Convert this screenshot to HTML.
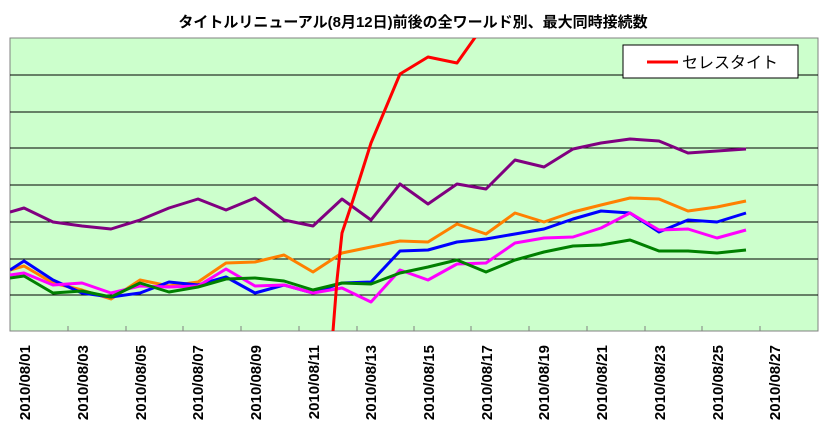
<!DOCTYPE html>
<html><head><meta charset="utf-8"><style>
html,body{margin:0;padding:0;background:#fff;}
svg{display:block;}
</style></head><body>
<svg width="827" height="442" xmlns="http://www.w3.org/2000/svg">
<text x="413" y="27" text-anchor="middle" font-family="'Liberation Sans','Noto Sans CJK JP',sans-serif" font-size="15" font-weight="bold" fill="#000">タイトルリニューアル(8月12日)前後の全ワールド別、最大同時接続数</text>
<defs><clipPath id="c"><rect x="10" y="38" width="808" height="293"/></clipPath></defs>
<rect x="10" y="38" width="808" height="293" fill="#ccffcc" stroke="#808080" stroke-width="1"/>
<g stroke="#000" stroke-width="1">
<line x1="10" y1="75" x2="818" y2="75"/><line x1="10" y1="112" x2="818" y2="112"/>
<line x1="10" y1="148" x2="818" y2="148"/><line x1="10" y1="185" x2="818" y2="185"/>
<line x1="10" y1="222" x2="818" y2="222"/><line x1="10" y1="259" x2="818" y2="259"/>
<line x1="10" y1="295" x2="818" y2="295"/>
</g>
<g stroke="#808080" stroke-width="1">
<line x1="10" y1="331" x2="818" y2="331"/>
<line x1="68" y1="331" x2="68" y2="326"/><line x1="126" y1="331" x2="126" y2="326"/><line x1="183" y1="331" x2="183" y2="326"/><line x1="241" y1="331" x2="241" y2="326"/><line x1="299" y1="331" x2="299" y2="326"/><line x1="357" y1="331" x2="357" y2="326"/><line x1="414" y1="331" x2="414" y2="326"/><line x1="471" y1="331" x2="471" y2="326"/><line x1="529" y1="331" x2="529" y2="326"/><line x1="587" y1="331" x2="587" y2="326"/><line x1="645" y1="331" x2="645" y2="326"/><line x1="702" y1="331" x2="702" y2="326"/><line x1="760" y1="331" x2="760" y2="326"/>
</g>
<g fill="none" stroke-width="3" stroke-linejoin="round" clip-path="url(#c)">
<polyline stroke="#800080" points="10,212 24,208 53,222 82,226 111,229 140,220 169,208 198,199 226,210 255,198 284,220 313,226 342,199 371,220 400,184 428,204 457,184 486,189 515,160 544,167 573,149 601,143 630,139 659,141 688,153 717,151 746,149"/>
<polyline stroke="#ff8000" points="10,270 24,266 53,283 82,290 111,299 140,280 169,286 198,282 226,263 255,262 284,255 313,272 342,253 371,247 400,241 428,242 457,224 486,234 515,213 544,222 573,212 601,205 630,198 659,199 688,211 717,207 746,201"/>
<polyline stroke="#0000ff" points="10,270 24,261 53,280 82,293 111,297 140,293 169,282 198,285 226,277 255,293 284,285 313,293 342,283 371,282 400,251 428,250 457,242 486,239 515,234 544,229 573,219 601,211 630,213 659,232 688,220 717,222 746,213"/>
<polyline stroke="#ff00ff" points="10,275 24,273 53,285 82,283 111,293 140,286 169,287 198,286 226,269 255,286 284,285 313,293 342,288 371,302 400,270 428,280 457,264 486,263 515,243 544,238 573,237 601,228 630,213 659,230 688,229 717,238 746,230"/>
<polyline stroke="#008000" points="10,278 24,276 53,293 82,291 111,297 140,283 169,292 198,287 226,279 255,278 284,281 313,290 342,283 371,284 400,273 428,267 457,260 486,272 515,260 544,252 573,246 601,245 630,240 659,251 688,251 717,253 746,250"/>
<polyline stroke="#ff0000" points="328,400 333,331 337,280 342,233 353,200 371,143 400,74 428,57 457,63 486,22"/>
</g>
<rect x="623" y="45" width="175" height="33" fill="#fff" stroke="#000" stroke-width="1"/>
<line x1="647" y1="62" x2="678" y2="62" stroke="#ff0000" stroke-width="3"/>
<text x="682" y="68" font-family="'Liberation Sans','Noto Sans CJK JP',sans-serif" font-size="16" fill="#000">セレスタイト</text>
<g font-family="'Liberation Sans',sans-serif" font-size="15" font-weight="bold" fill="#000" text-anchor="end">
<text transform="translate(30,345) rotate(-90)">2010/08/01</text>
<text transform="translate(88,345) rotate(-90)">2010/08/03</text>
<text transform="translate(146,345) rotate(-90)">2010/08/05</text>
<text transform="translate(203,345) rotate(-90)">2010/08/07</text>
<text transform="translate(261,345) rotate(-90)">2010/08/09</text>
<text transform="translate(319,345) rotate(-90)">2010/08/11</text>
<text transform="translate(376,345) rotate(-90)">2010/08/13</text>
<text transform="translate(434,345) rotate(-90)">2010/08/15</text>
<text transform="translate(492,345) rotate(-90)">2010/08/17</text>
<text transform="translate(549,345) rotate(-90)">2010/08/19</text>
<text transform="translate(607,345) rotate(-90)">2010/08/21</text>
<text transform="translate(665,345) rotate(-90)">2010/08/23</text>
<text transform="translate(723,345) rotate(-90)">2010/08/25</text>
<text transform="translate(780,345) rotate(-90)">2010/08/27</text>
</g>
</svg>
</body></html>
